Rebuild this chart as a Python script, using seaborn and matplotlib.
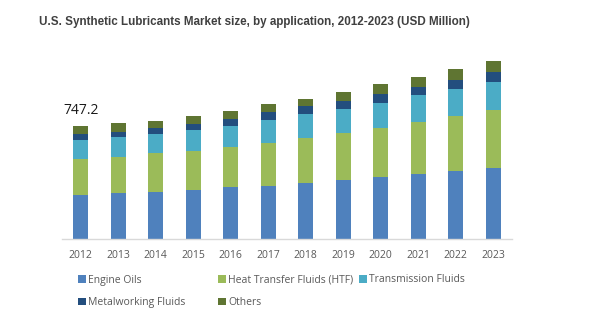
import matplotlib
matplotlib.use("Agg")
import matplotlib.pyplot as plt
import seaborn as sns
import pandas as pd
import numpy as np
from matplotlib.patches import Patch

years = ["2012", "2013", "2014", "2015", "2016", "2017", "2018", "2019", "2020", "2021", "2022", "2023"]
engine_oils = [294, 307, 314, 327, 343, 354, 374, 394, 414, 432, 453, 473]
htf = [239, 239, 254, 259, 270, 285, 299, 310, 323, 347, 363, 383]
transmission = [121, 128, 126, 135, 139, 148, 153, 159, 168, 173, 179, 186]
metalworking = [44, 38, 44, 44, 46, 53, 53, 53, 60, 58, 62, 66]
others = [49.2, 55, 46, 48, 53, 53, 51, 60, 60, 66, 71, 73]

series_names = ["Engine Oils", "Heat Transfer Fluids (HTF)", "Transmission Fluids", "Metalworking Fluids", "Others"]
series_vals = [engine_oils, htf, transmission, metalworking, others]
colors = ["#4F81BD", "#9BBB59", "#4BACC6", "#234E7E", "#5F7532"]
label_text = "747.2"

sns.set_theme(style="white")
plt.rcParams['font.family'] = ['Open Sans', 'DejaVu Sans']

fig = plt.figure(figsize=(5.91, 3.26), dpi=100)
ax = fig.add_axes([62/591, 1-239/326, 450/591, 199/326])

cum = np.cumsum(np.array(series_vals, dtype=float), axis=0)
df = pd.DataFrame({"year": years})
for i in range(len(series_names) - 1, -1, -1):
    df["v"] = cum[i]
    sns.barplot(data=df, x="year", y="v", color=colors[i], width=0.4,
                saturation=1, ax=ax, linewidth=0, order=years)

ax.set_xlim(-0.5, len(years) - 0.5)
ax.set_ylim(0, 1320)
ax.set_xlabel("")
ax.set_ylabel("")
ax.set_yticks([])
for s in ["top", "right", "left"]:
    ax.spines[s].set_visible(False)
ax.spines["bottom"].set_color("#D9D9D9")
ax.spines["bottom"].set_linewidth(1)
ax.tick_params(axis="x", length=0, pad=8, labelsize=7.5, labelcolor="#595959")

ax.annotate(label_text, xy=(0, cum[-1][0]), xytext=(0, 6), textcoords="offset points",
            ha="center", va="bottom", fontsize=10, color="#1a1a1a")

fig.text(254/591, 1-22/326, "U.S. Synthetic Lubricants Market size, by application, 2012-2023 (USD Million)",
         ha="center", va="center", fontsize=8.4, fontweight="bold", color="#404040",
         family=["Liberation Sans", "DejaVu Sans"])

positions = [(78, 280), (218, 280), (359, 280), (78, 302.5), (218, 302.5)]
for name, col, (px, py) in zip(series_names, colors, positions):
    fig.legend(handles=[Patch(facecolor=col, edgecolor="none")], labels=[name],
               loc="center left", bbox_to_anchor=(px/591, 1-py/326),
               frameon=False, borderpad=0, borderaxespad=0,
               handlelength=0.75, handleheight=0.75, handletextpad=0.25,
               fontsize=7.5, labelcolor="#595959")

fig.savefig("out.png", dpi=100)
